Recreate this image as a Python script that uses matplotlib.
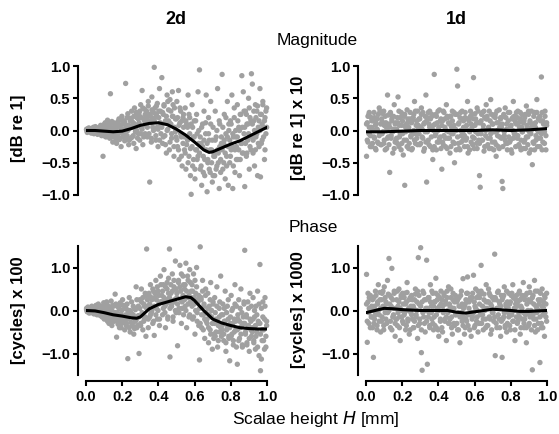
import numpy as np
import matplotlib
matplotlib.use("Agg")
import matplotlib.pyplot as plt

plt.rcParams["font.family"] = ["Liberation Sans", "DejaVu Sans"]

# Scalae height H [mm] of the simulated points (shared by all four panels;
# each panel has two batches of values drawn at these heights)
h = [
    0.003, 0.007, 0.011, 0.016, 0.018, 0.024, 0.029, 0.032, 0.036, 0.041,
    0.044, 0.047, 0.052, 0.055, 0.061, 0.064, 0.068, 0.073, 0.077, 0.081,
    0.086, 0.089, 0.094, 0.098, 0.101, 0.106, 0.110, 0.114, 0.119, 0.123,
    0.127, 0.131, 0.135, 0.139, 0.143, 0.148, 0.152, 0.156, 0.161, 0.165,
    0.169, 0.173, 0.177, 0.182, 0.185, 0.189, 0.194, 0.198, 0.202, 0.206,
    0.211, 0.214, 0.219, 0.223, 0.227, 0.231, 0.236, 0.239, 0.244, 0.248,
    0.252, 0.256, 0.261, 0.264, 0.268, 0.273, 0.277, 0.281, 0.285, 0.289,
    0.293, 0.297, 0.302, 0.306, 0.310, 0.314, 0.319, 0.323, 0.327, 0.331,
    0.335, 0.339, 0.344, 0.348, 0.352, 0.356, 0.361, 0.364, 0.369, 0.373,
    0.377, 0.381, 0.386, 0.389, 0.394, 0.398, 0.402, 0.406, 0.411, 0.414,
    0.419, 0.423, 0.427, 0.431, 0.436, 0.439, 0.444, 0.448, 0.452, 0.456,
    0.461, 0.464, 0.469, 0.473, 0.477, 0.481, 0.486, 0.489, 0.494, 0.498,
    0.502, 0.506, 0.511, 0.514, 0.519, 0.523, 0.527, 0.531, 0.536, 0.539,
    0.544, 0.548, 0.552, 0.556, 0.561, 0.564, 0.569, 0.573, 0.577, 0.581,
    0.586, 0.589, 0.594, 0.598, 0.602, 0.606, 0.611, 0.614, 0.619, 0.623,
    0.627, 0.631, 0.636, 0.639, 0.644, 0.648, 0.652, 0.656, 0.661, 0.664,
    0.669, 0.673, 0.677, 0.681, 0.686, 0.689, 0.694, 0.698, 0.702, 0.706,
    0.711, 0.714, 0.719, 0.723, 0.727, 0.731, 0.736, 0.739, 0.744, 0.748,
    0.752, 0.756, 0.761, 0.764, 0.769, 0.773, 0.777, 0.781, 0.786, 0.789,
    0.794, 0.798, 0.802, 0.806, 0.811, 0.814, 0.819, 0.823, 0.827, 0.831,
    0.836, 0.839, 0.844, 0.848, 0.852, 0.856, 0.861, 0.864, 0.869, 0.873,
    0.877, 0.881, 0.886, 0.889, 0.894, 0.898, 0.902, 0.906, 0.911, 0.914,
    0.919, 0.923, 0.927, 0.931, 0.936, 0.939, 0.944, 0.948, 0.952, 0.956,
    0.961, 0.964, 0.969, 0.973, 0.977, 0.981, 0.986, 0.989, 0.994, 0.998,
]

# 2d magnitude [dB re 1]
mag_2d = [
    0.02, -0.03, 0.01, 0.04, -0.01, 0.00, -0.04, 0.03, -0.02, 0.05,
    -0.05, 0.03, 0.06, -0.02, 0.01, -0.06, 0.04, -0.03, 0.02, 0.08,
    -0.08, 0.05, -0.40, 0.09, -0.03, 0.12, -0.10, 0.02, 0.16, -0.06,
    0.10, -0.12, 0.57, -0.05, 0.14, -0.18, 0.03, -0.09, 0.08, -0.15,
    -0.20, 0.12, -0.06, 0.18, -0.14, 0.06, -0.25, 0.22, 0.00, -0.10,
    0.15, -0.16, 0.73, 0.08, -0.08, 0.26, -0.22, 0.03, 0.19, -0.12,
    0.30, -0.10, 0.12, -0.20, 0.35, 0.02, -0.28, 0.20, 0.08, -0.05,
    0.25, -0.15, 0.40, 0.05, 0.62, -0.22, 0.18, 0.33, -0.05, 0.10,
    0.30, -0.10, 0.45, 0.15, -0.80, 0.22, -0.18, 0.52, 0.05, 0.28,
    0.98, 0.20, -0.15, 0.38, 0.05, -0.25, 0.30, 0.65, 0.12, -0.05,
    0.82, -0.20, 0.25, 0.40, -0.08, 0.15, -0.35, 0.55, 0.02, 0.32,
    -0.30, 0.48, 0.10, -0.12, 0.60, 0.22, -0.40, 0.35, -0.02, 0.18,
    0.45, -0.25, 0.62, -0.45, 0.12, 0.30, -0.10, -0.55, 0.20, 0.05,
    -0.30, 0.35, -0.60, 0.10, -0.15, 0.55, -0.40, 0.20, -0.70, -0.99,
    0.40, -0.55, -0.10, 0.15, -0.75, -0.30, 0.25, -0.45, 0.60, -0.20,
    0.94, -0.60, -0.20, -0.85, 0.10, -0.40, 0.30, -0.70, -0.05, 0.55,
    -0.95, -0.50, 0.20, -0.15, -0.65, 0.45, -0.30, -0.80, 0.05, -0.40,
    -0.70, 0.30, -0.10, -0.55, 0.65, -0.35, -0.90, 0.10, -0.45, -0.20,
    0.87, -0.60, -0.20, 0.25, -0.75, -0.05, -0.40, 0.45, -0.85, 0.10,
    -0.50, 0.15, -0.30, 0.55, -0.90, -0.10, 0.35, -0.65, 0.00, -0.25,
    0.40, -0.45, 0.05, -0.70, 0.25, -0.20, 0.85, -0.35, 0.60, -0.05,
    -0.87, 0.30, -0.40, 0.10, -0.15, 0.50, -0.60, 0.20, -0.30, 0.88,
    0.72, -0.35, 0.15, -0.55, 0.40, -0.10, 0.30, -0.70, 0.05, -0.25,
    0.65, -0.72, 0.25, -0.15, 0.45, 0.05, -0.45, 0.20, -0.05, 0.35,
]
mag_2d_b = [
    0.01, -0.02, 0.03, -0.01, 0.00, 0.02, -0.03, 0.01, -0.01, 0.02,
    -0.03, 0.02, 0.00, 0.04, -0.04, 0.01, -0.01, 0.03, -0.02, 0.05,
    0.06, -0.05, 0.02, -0.08, 0.04, -0.02, 0.08, -0.04, 0.00, 0.03,
    -0.06, 0.10, -0.02, 0.05, -0.10, 0.02, 0.12, -0.07, 0.00, 0.07,
    0.05, -0.08, 0.14, -0.03, 0.09, -0.12, 0.02, 0.16, -0.05, 0.10,
    -0.05, 0.12, 0.04, -0.10, 0.20, 0.00, 0.08, -0.15, 0.15, 0.06,
    0.15, 0.05, -0.08, 0.22, 0.10, -0.02, 0.28, 0.00, -0.12, 0.18,
    0.12, 0.30, -0.05, 0.20, 0.02, 0.35, -0.10, 0.15, 0.25, 0.08,
    0.20, 0.05, 0.38, -0.05, 0.25, 0.12, -0.12, 0.32, 0.18, 0.00,
    0.15, 0.35, -0.08, 0.25, 0.42, 0.02, 0.20, -0.15, 0.30, 0.10,
    0.05, 0.28, -0.10, 0.38, 0.12, -0.22, 0.22, 0.00, 0.45, 0.15,
    0.12, -0.18, 0.30, -0.05, 0.22, 0.40, -0.25, 0.05, 0.18, -0.10,
    -0.15, 0.20, -0.30, 0.08, 0.35, -0.05, -0.40, 0.15, -0.20, 0.25,
    -0.10, -0.35, 0.15, -0.22, 0.05, -0.50, 0.25, -0.05, -0.28, 0.10,
    -0.25, 0.05, -0.45, -0.10, -0.60, 0.15, -0.30, -0.05, -0.40, 0.00,
    -0.35, -0.10, -0.55, 0.05, -0.25, -0.65, -0.15, -0.45, 0.12, -0.30,
    -0.20, -0.45, -0.05, -0.60, -0.30, 0.10, -0.50, -0.15, -0.70, -0.35,
    -0.40, -0.15, -0.60, 0.00, -0.30, -0.50, 0.15, -0.25, -0.65, -0.10,
    -0.30, 0.05, -0.50, -0.15, -0.35, 0.20, -0.55, -0.10, -0.25, 0.00,
    -0.15, -0.40, 0.10, -0.25, -0.05, -0.55, 0.20, -0.30, -0.10, -0.45,
    -0.10, 0.15, -0.30, 0.00, -0.45, 0.25, -0.20, 0.05, -0.35, 0.30,
    0.05, -0.20, 0.25, -0.35, 0.10, -0.05, 0.35, -0.25, 0.15, -0.10,
    0.10, -0.15, 0.30, 0.00, -0.30, 0.20, -0.05, 0.38, -0.20, 0.15,
    0.00, 0.25, -0.20, 0.10, 0.40, -0.10, 0.15, -0.30, 0.30, 0.05,
]

# 1d magnitude [dB re 1] x 10
mag_1d = [
    -0.40, 0.12, -0.18, 0.25, 0.05, -0.08, 0.20, -0.25, 0.02, 0.15,
    0.28, -0.12, 0.08, -0.30, 0.18, 0.00, -0.20, 0.35, -0.05, 0.10,
    -0.22, 0.14, -0.02, 0.30, -0.15, 0.22, 0.06, -0.28, 0.55, -0.10,
    0.10, -0.65, 0.25, -0.08, 0.18, -0.35, 0.02, 0.40, -0.18, 0.12,
    -0.12, 0.20, 0.52, -0.25, 0.08, -0.05, 0.28, -0.20, 0.15, -0.38,
    0.22, -0.85, 0.05, -0.15, 0.32, 0.12, -0.28, 0.00, 0.18, -0.10,
    -0.30, 0.15, -0.05, 0.25, 0.45, -0.20, 0.08, -0.12, 0.30, 0.02,
    0.18, -0.22, 0.05, 0.35, -0.10, 0.28, -0.32, 0.12, -0.02, 0.55,
    -0.80, 0.20, -0.15, 0.10, 0.30, -0.25, 0.02, 0.22, -0.45, 0.08,
    0.87, -0.08, 0.25, -0.30, 0.12, 0.00, -0.18, 0.32, -0.10, 0.18,
    -0.60, 0.15, -0.22, 0.28, 0.05, -0.12, 0.40, -0.28, 0.20, -0.02,
    0.10, -0.35, 0.22, -0.05, 0.30, -0.18, 0.08, -0.50, 0.25, 0.00,
    0.95, 0.69, -0.20, 0.12, -0.30, 0.28, -0.08, 0.18, -0.15, 0.05,
    -0.25, 0.20, 0.02, -0.12, 0.45, -0.35, 0.15, -0.02, 0.30, -0.18,
    0.25, -0.10, 0.82, -0.28, 0.08, 0.18, -0.20, 0.35, -0.05, 0.12,
    -0.70, -0.88, 0.15, -0.15, 0.28, 0.02, -0.32, 0.20, -0.08, 0.40,
    0.18, -0.22, 0.05, 0.30, -0.12, 0.48, -0.28, 0.10, -0.02, 0.22,
    -0.18, 0.25, -0.40, 0.12, 0.00, -0.25, 0.32, -0.10, 0.20, 0.05,
    -0.79, -0.90, 0.22, -0.08, 0.35, -0.20, 0.10, -0.30, 0.15, 0.02,
    0.28, -0.15, 0.08, -0.35, 0.20, 0.45, -0.05, 0.15, -0.25, 0.10,
    -0.12, 0.30, -0.22, 0.05, 0.18, -0.30, 0.25, -0.02, 0.12, -0.18,
    0.20, -0.28, 0.38, 0.02, -0.10, 0.25, -0.35, 0.15, -0.05, 0.30,
    -0.53, 0.10, -0.20, 0.28, 0.05, -0.15, 0.48, -0.25, 0.18, -0.02,
    0.22, -0.12, 0.83, -0.30, 0.15, 0.00, -0.20, 0.30, -0.08, 0.12,
]
mag_1d_b = [
    0.10, -0.15, 0.22, -0.05, 0.28, -0.25, 0.05, 0.15, -0.20, 0.00,
    -0.10, 0.20, -0.28, 0.12, 0.02, -0.18, 0.25, -0.08, 0.30, -0.22,
    0.18, -0.05, 0.26, -0.20, 0.08, -0.30, 0.12, 0.00, -0.12, 0.24,
    -0.22, 0.05, 0.28, -0.12, 0.15, -0.02, 0.22, -0.28, 0.10, -0.15,
    0.02, -0.20, 0.12, 0.30, -0.10, 0.20, -0.30, 0.08, -0.05, 0.25,
    -0.15, 0.25, -0.02, 0.10, -0.25, 0.18, 0.05, -0.20, 0.28, -0.08,
    0.12, -0.28, 0.20, 0.00, -0.15, 0.30, -0.05, 0.15, -0.22, 0.08,
    -0.05, 0.18, -0.20, 0.25, 0.02, -0.12, 0.10, -0.28, 0.22, -0.18,
    0.15, -0.02, 0.28, -0.22, 0.05, 0.18, -0.10, 0.25, -0.30, 0.00,
    -0.25, 0.10, -0.05, 0.22, -0.18, 0.30, 0.05, -0.12, 0.15, -0.28,
    0.08, -0.18, 0.30, -0.08, 0.18, -0.25, 0.00, 0.22, -0.12, 0.12,
    -0.12, 0.22, -0.25, 0.05, 0.15, -0.05, 0.28, -0.20, 0.02, -0.30,
    0.25, -0.10, 0.10, -0.28, 0.20, 0.00, -0.18, 0.30, -0.05, 0.15,
    -0.08, 0.28, -0.15, 0.08, -0.25, 0.18, 0.00, -0.30, 0.22, 0.10,
    0.05, -0.22, 0.18, -0.12, 0.26, -0.02, 0.12, -0.28, 0.30, -0.15,
    -0.20, 0.12, -0.05, 0.25, -0.15, 0.08, 0.30, -0.25, 0.00, 0.18,
    0.22, -0.12, 0.02, -0.28, 0.15, -0.05, 0.25, -0.18, 0.10, -0.30,
    -0.02, 0.20, -0.22, 0.30, -0.08, 0.12, -0.28, 0.05, 0.18, -0.12,
    0.10, -0.25, 0.25, -0.02, -0.15, 0.20, 0.02, -0.20, 0.28, -0.10,
    -0.18, 0.05, -0.30, 0.18, 0.00, -0.12, 0.22, -0.05, 0.12, 0.28,
    0.20, -0.08, 0.12, -0.25, 0.28, -0.15, 0.05, -0.02, -0.28, 0.15,
    -0.15, 0.25, -0.10, 0.08, -0.22, 0.30, -0.02, 0.12, -0.30, 0.05,
    0.02, -0.18, 0.22, -0.30, 0.12, -0.08, 0.28, 0.00, -0.12, 0.20,
    -0.25, 0.15, -0.05, 0.28, -0.18, 0.10, -0.02, 0.22, -0.30, 0.08,
]

# 2d phase [cycles] x 100
ph_2d = [
    0.05, -0.03, 0.08, 0.00, -0.06, 0.03, -0.01, 0.10, -0.04, 0.02,
    -0.08, 0.06, -0.02, 0.12, -0.10, 0.01, 0.15, -0.05, 0.04, -0.12,
    0.10, -0.15, -0.02, 0.18, -0.20, 0.05, -0.08, 0.20, -0.25, 0.00,
    -0.30, 0.08, -0.12, 0.22, -0.35, 0.12, -0.05, -0.22, 0.38, -0.15,
    -0.62, 0.10, -0.25, 0.05, -0.40, 0.18, -0.10, -0.30, 0.25, -0.18,
    -0.20, -0.45, 0.12, -0.30, 0.02, -1.12, -0.15, 0.30, -0.50, -0.05,
    0.20, -0.35, -0.10, -0.55, 0.05, -0.25, 0.55, -0.40, -0.15, 0.10,
    -1.00, 0.25, -0.30, 0.50, -0.10, -0.45, 0.15, -0.20, 0.40, -0.60,
    1.43, 0.10, -0.40, 0.35, -0.15, 0.60, -0.05, 0.25, -0.30, 0.45,
    -0.58, 0.30, 0.70, 0.05, -0.20, 0.45, 0.15, -0.35, 0.80, 0.20,
    0.35, -0.10, 0.60, 0.95, 0.10, -0.40, 0.25, 0.50, -0.15, 0.75,
    1.43, -1.08, 0.40, 0.10, 0.85, -0.25, 0.55, 0.20, 1.15, -0.05,
    0.30, -0.82, 0.65, 0.05, 1.05, 0.45, -0.30, 0.20, 0.80, -0.10,
    0.50, 0.10, 1.10, -0.40, 0.30, 0.70, -0.15, 0.95, 0.20, 0.45,
    0.60, -0.20, 0.85, 0.15, -0.55, 0.40, 1.00, -0.05, 0.25, -0.35,
    -1.15, 1.48, 0.30, -0.40, 0.70, -0.10, 0.10, -0.65, 0.50, -0.25,
    -0.30, 0.40, -0.75, 0.10, -0.45, 0.65, -0.15, -0.90, 0.20, -0.55,
    0.30, -0.60, -0.20, 0.55, -0.85, -0.35, 0.05, -0.50, 0.80, -0.10,
    -0.45, 0.15, -0.70, -0.25, 0.45, -0.95, -0.05, -0.40, 0.25, -0.60,
    -1.17, -0.30, 0.35, -0.55, 0.05, -0.80, -0.20, 0.60, -0.45, 0.10,
    -1.25, -0.20, 0.25, -0.65, -0.40, 0.50, -0.05, -0.85, -0.30, 0.15,
    1.40, -0.50, -0.10, -0.75, 0.20, -0.35, -0.95, 0.40, -0.25, -0.60,
    -0.40, 0.30, -0.70, -0.15, -0.90, 0.10, -0.50, 0.45, -0.30, -1.05,
    1.07, -1.40, -1.13, -0.45, 0.20, -0.70, -0.20, 0.30, -0.85, -0.35,
]
ph_2d_b = [
    0.02, -0.02, 0.04, -0.04, 0.00, 0.06, -0.05, 0.03, -0.01, 0.01,
    0.03, -0.06, 0.08, -0.03, 0.00, -0.08, 0.05, -0.10, 0.02, 0.07,
    -0.05, 0.05, -0.12, 0.02, -0.18, 0.10, -0.08, -0.02, 0.12, -0.15,
    -0.10, -0.20, 0.05, -0.28, 0.00, -0.15, 0.10, -0.25, -0.05, 0.15,
    -0.15, -0.05, -0.32, 0.08, -0.20, -0.10, -0.40, 0.00, -0.25, 0.12,
    -0.25, 0.05, -0.10, -0.35, 0.15, -0.20, -0.05, -0.40, 0.00, -0.28,
    -0.08, -0.30, 0.10, -0.18, -0.42, 0.02, -0.22, 0.25, -0.35, -0.12,
    -0.15, 0.05, -0.35, 0.20, -0.05, 0.30, -0.25, 0.10, -0.15, 0.35,
    0.05, 0.25, -0.20, 0.40, 0.15, -0.10, 0.30, 0.00, 0.50, -0.25,
    0.10, 0.40, -0.10, 0.25, 0.55, 0.00, 0.35, -0.20, 0.20, 0.60,
    0.20, 0.45, 0.05, 0.30, -0.05, 0.55, 0.15, 0.65, -0.20, 0.40,
    0.30, 0.05, 0.60, 0.15, 0.45, -0.15, 0.70, 0.25, 0.00, 0.50,
    0.40, 0.15, 0.70, -0.05, 0.55, 0.25, 0.85, 0.05, 0.35, 0.60,
    0.25, 0.60, 0.00, 0.45, 0.80, 0.15, 0.35, -0.10, 0.65, 0.30,
    0.10, 0.45, -0.15, 0.30, 0.70, 0.00, 0.55, -0.25, 0.20, 0.35,
    0.05, -0.30, 0.25, -0.10, 0.45, -0.45, 0.15, -0.20, 0.35, -0.05,
    -0.20, 0.05, -0.40, -0.10, 0.25, -0.55, 0.00, -0.30, 0.15, -0.65,
    -0.30, -0.05, -0.50, 0.10, -0.25, -0.70, -0.15, 0.20, -0.40, -0.60,
    -0.35, -0.10, -0.55, 0.05, -0.25, -0.75, -0.45, 0.10, -0.20, -0.65,
    -0.40, -0.15, -0.60, 0.00, -0.30, -0.70, -0.50, 0.15, -0.25, -0.85,
    -0.45, -0.10, -0.70, -0.25, 0.05, -0.55, -0.35, -0.80, -0.15, 0.20,
    -0.30, -0.55, -0.15, -0.80, -0.40, 0.05, -0.65, -0.20, -0.45, 0.10,
    -0.50, -0.20, -0.75, 0.00, -0.35, -0.60, -0.10, -0.85, -0.25, 0.15,
    -0.30, -0.55, 0.05, -0.70, -0.15, -0.45, -0.90, 0.10, -0.60, -0.25,
]

# 1d phase [cycles] x 1000
ph_1d = [
    0.84, -0.74, 0.20, -0.30, 0.05, 0.35, -0.15, 0.10, -0.40, -1.09,
    0.30, -0.20, 0.45, 0.00, -0.35, 0.15, 0.60, -0.10, 0.25, -0.50,
    -0.25, 0.40, 0.10, -0.45, 0.55, -0.05, 0.20, -0.30, 0.70, 0.00,
    1.21, 0.15, -0.40, 0.30, 0.98, -0.15, 0.05, 0.45, -0.60, -0.20,
    0.25, -0.35, 0.10, 0.50, -0.15, -0.70, 0.35, 0.00, -0.25, 0.15,
    -0.10, 0.40, -0.45, 0.20, 0.65, -0.25, 0.05, -0.55, 0.30, -0.05,
    0.35, -0.20, 0.10, -0.40, 0.25, 0.50, -0.10, 0.00, -0.65, 1.23,
    0.15, -0.30, 1.46, -0.98, -1.39, 0.45, -0.15, 0.25, -0.50, 0.05,
    1.17, -1.25, 0.30, -0.05, -0.35, 0.60, 0.10, -0.20, 0.40, -0.45,
    -0.15, 0.20, 0.75, -0.40, 0.05, 0.35, -0.60, 0.10, -0.25, 0.45,
    0.25, -0.50, 0.00, 0.40, -0.20, 0.15, -0.70, 0.30, -0.05, 0.55,
    -0.30, 0.10, 0.50, -0.15, -0.55, 0.25, 0.05, -0.35, 0.35, -0.10,
    0.20, -0.45, -0.05, 0.30, -0.75, 0.10, 0.45, -0.25, 0.74, -0.15,
    -0.55, 0.15, -0.20, 0.40, 0.78, -0.35, 0.05, -0.10, 0.25, -0.60,
    0.30, -0.15, 0.82, -0.40, 0.10, 0.50, -0.25, 0.00, -0.50, 0.35,
    0.15, -0.30, 1.05, 0.40, -0.10, -0.45, 0.25, 0.05, -0.20, 0.60,
    -0.35, 0.20, 0.50, -0.15, 0.35, -0.55, 0.10, -0.05, 0.30, -0.25,
    1.31, -1.05, 0.25, -0.40, 0.05, 0.45, -0.20, 0.15, -0.60, 0.35,
    -1.09, 0.30, -0.15, 0.55, -0.35, 0.10, -0.50, 0.20, -0.05, 0.40,
    0.15, -0.45, 0.35, -0.10, 0.60, -0.25, 0.05, -0.70, 0.25, -0.15,
    -0.30, 0.20, -0.05, 0.45, -0.55, 0.10, 0.30, -0.20, 0.65, -0.40,
    0.25, -0.10, -0.75, 0.40, 0.00, -0.35, 0.55, -0.15, 0.20, -0.45,
    -1.38, 0.35, -0.20, 0.70, -0.50, 0.10, -0.05, 0.45, -0.30, 0.15,
    -1.21, 0.25, -0.40, 0.50, -0.10, 0.05, -0.60, 0.30, -0.15, 0.40,
]
ph_1d_b = [
    0.15, -0.25, 0.40, -0.05, 0.30, -0.40, 0.05, -0.15, 0.25, 0.00,
    -0.30, 0.10, -0.10, 0.35, -0.45, 0.20, 0.00, -0.25, 0.42, 0.05,
    0.25, -0.15, 0.45, -0.35, 0.05, 0.30, -0.20, 0.15, -0.05, 0.38,
    0.00, 0.35, -0.25, 0.10, -0.45, 0.25, -0.10, 0.40, -0.30, 0.05,
    -0.20, 0.45, -0.05, 0.20, -0.40, 0.05, 0.30, -0.15, 0.40, -0.30,
    0.30, -0.05, 0.15, -0.35, 0.42, -0.20, 0.00, 0.25, -0.45, 0.10,
    -0.10, 0.25, -0.40, 0.05, -0.25, 0.38, -0.15, 0.20, 0.45, -0.35,
    0.35, -0.20, 0.10, -0.45, 0.20, -0.05, 0.40, -0.30, 0.00, 0.25,
    -0.25, 0.05, -0.15, 0.30, -0.40, 0.20, -0.05, 0.45, -0.30, 0.10,
    0.20, -0.35, 0.40, -0.10, 0.25, -0.45, 0.00, 0.30, -0.20, 0.15,
    -0.40, 0.10, -0.05, 0.35, -0.25, 0.22, -0.15, 0.45, 0.00, -0.30,
    0.15, -0.20, 0.30, -0.40, 0.05, 0.40, -0.30, 0.20, -0.10, 0.25,
    -0.30, 0.25, -0.45, 0.10, -0.15, 0.35, -0.05, 0.15, -0.35, 0.05,
    0.10, -0.40, 0.25, -0.25, 0.40, -0.10, 0.20, -0.45, 0.30, -0.05,
    -0.20, 0.40, -0.05, 0.20, -0.35, 0.05, 0.30, -0.15, 0.45, -0.30,
    0.30, -0.10, 0.45, -0.30, 0.10, -0.20, 0.38, 0.00, -0.40, 0.20,
    0.05, -0.35, 0.20, 0.40, -0.20, 0.15, -0.45, 0.30, -0.05, 0.25,
    -0.15, 0.30, -0.30, 0.05, 0.42, -0.10, 0.20, -0.40, 0.10, -0.25,
    0.25, -0.20, 0.35, -0.05, -0.40, 0.15, 0.45, -0.30, 0.05, -0.15,
    -0.35, 0.20, -0.10, 0.40, -0.25, 0.30, 0.00, -0.45, 0.15, 0.35,
    0.10, -0.25, 0.40, -0.15, 0.25, -0.40, 0.05, 0.35, -0.05, -0.30,
    -0.20, 0.35, -0.40, 0.15, -0.05, 0.25, -0.30, 0.42, 0.00, -0.12,
    0.30, -0.10, 0.15, -0.35, 0.45, -0.20, 0.05, -0.45, 0.25, 0.00,
    -0.15, 0.40, -0.30, 0.10, -0.40, 0.20, 0.35, -0.05, 0.15, -0.25,
]

# smoothed trend curves (black lines)
mag_2d_fit_h = [0.0, 0.05, 0.1, 0.15, 0.2, 0.25, 0.3, 0.35, 0.4, 0.45, 0.5,
                0.55, 0.6, 0.65, 0.68, 0.7, 0.75, 0.8, 0.85, 0.9, 0.95, 1.0]
mag_2d_fit = [0.0, 0.0, -0.01, -0.02, -0.01, 0.03, 0.08, 0.11, 0.12, 0.09,
              0.02, -0.07, -0.18, -0.30, -0.34, -0.33, -0.27, -0.21, -0.16,
              -0.09, -0.02, 0.05]
mag_1d_fit_h = [0.0, 0.1, 0.2, 0.3, 0.4, 0.5, 0.6, 0.7, 0.8, 0.9, 1.0]
mag_1d_fit = [-0.02, -0.02, -0.01, 0.0, 0.0, 0.0, 0.0, 0.01, 0.0, 0.01, 0.03]
ph_2d_fit_h = [0.0, 0.05, 0.1, 0.15, 0.2, 0.25, 0.28, 0.3, 0.35, 0.4, 0.45,
               0.5, 0.55, 0.58, 0.6, 0.65, 0.7, 0.75, 0.8, 0.85, 0.9, 0.95, 1.0]
ph_2d_fit = [0.0, -0.01, -0.05, -0.10, -0.13, -0.17, -0.18, -0.15, 0.04, 0.14,
             0.20, 0.26, 0.32, 0.30, 0.23, 0.0, -0.20, -0.29, -0.35, -0.40,
             -0.42, -0.43, -0.43]
ph_1d_fit_h = [0.0, 0.05, 0.1, 0.15, 0.2, 0.3, 0.4, 0.45, 0.5, 0.55, 0.6,
               0.7, 0.8, 0.85, 0.9, 1.0]
ph_1d_fit = [-0.05, 0.0, 0.05, 0.04, 0.02, 0.0, 0.0, 0.0, -0.04, -0.06, -0.03,
             0.03, 0.0, -0.02, -0.02, 0.0]

W, H = 559, 434
fig = plt.figure(figsize=(W / 100, H / 100), dpi=100)

GRAY = "#a0a0a0"


def px_axes(x0, x1, y0, y1):
    """Axes from pixel box (x0..x1 left-right, y0..y1 top-bottom)."""
    return fig.add_axes([x0 / W, 1 - y1 / H, (x1 - x0) / W, (y1 - y0) / H])


def style(ax, yticks, ybounds, show_x):
    for s in ["top", "right"]:
        ax.spines[s].set_visible(False)
    ax.spines["left"].set_position(("outward", 6))
    ax.spines["left"].set_bounds(*ybounds)
    ax.spines["left"].set_linewidth(1.5)
    ax.set_yticks(yticks)
    ax.set_yticklabels([f"{v:.1f}".replace("-", "\u2212") for v in yticks])
    ax.tick_params(axis="y", direction="out", length=3.5, width=1.5,
                   labelsize=10.5, pad=2)
    ax.set_xlim(0, 1)
    if show_x:
        ax.spines["bottom"].set_position(("outward", 4))
        ax.spines["bottom"].set_linewidth(1.5)
        ax.set_xticks([0, 0.2, 0.4, 0.6, 0.8, 1.0])
        ax.set_xticklabels(["0.0", "0.2", "0.4", "0.6", "0.8", "1.0"])
        ax.tick_params(axis="x", direction="out", length=3.5, width=1.5,
                       labelsize=10.5, pad=3)
    else:
        ax.spines["bottom"].set_visible(False)
        ax.set_xticks([])
    for lab in ax.get_xticklabels() + ax.get_yticklabels():
        lab.set_fontweight("bold")
    ax.patch.set_alpha(0)


panels = [
    (86, 267, 62.8, 198.2, (-1.05, 1.05), mag_2d, mag_2d_b, mag_2d_fit_h,
     mag_2d_fit, [-1, -0.5, 0, 0.5, 1], (-1, 1), False),
    (366, 547, 62.8, 198.2, (-1.05, 1.05), mag_1d, mag_1d_b, mag_1d_fit_h,
     mag_1d_fit, [-1, -0.5, 0, 0.5, 1], (-1, 1), False),
    (86, 267, 246, 375, (-1.5, 1.5), ph_2d, ph_2d_b, ph_2d_fit_h, ph_2d_fit,
     [-1, 0, 1], (-1.5, 1.5), True),
    (366, 547, 246, 375, (-1.5, 1.5), ph_1d, ph_1d_b, ph_1d_fit_h, ph_1d_fit,
     [-1, 0, 1], (-1.5, 1.5), True),
]

for x0, x1, y0, y1, ylim, va, vb, fh, fv, yt, yb, showx in panels:
    ax = px_axes(x0, x1, y0, y1)
    ax.scatter(h, va, s=15, color=GRAY, edgecolors="none", clip_on=False)
    ax.scatter(h, vb, s=15, color=GRAY, edgecolors="none", clip_on=False)
    ax.plot(fh, fv, color="black", lw=2.2, solid_capstyle="round")
    ax.set_ylim(*ylim)
    style(ax, yt, yb, showx)

# texts
fig.text(176 / W, 1 - 20 / H, "2d", ha="center", va="center", fontsize=13,
         fontweight="bold")
fig.text(456 / W, 1 - 20 / H, "1d", ha="center", va="center", fontsize=13,
         fontweight="bold")
fig.text(317 / W, 1 - 40 / H, "Magnitude", ha="center", va="center",
         fontsize=12.5)
fig.text(313 / W, 1 - 228 / H, "Phase", ha="center", va="center",
         fontsize=12.5)
fig.text(316 / W, 1 - 419 / H, "Scalae height $\\it{H}$ [mm]", ha="center",
         va="center", fontsize=12.5)

ylabels = [
    (19, 128, "[dB re 1]"),
    (298, 128, "[dB re 1] x 10"),
    (19, 310, "[cycles] x 100"),
    (298, 310, "[cycles] x 1000"),
]
for xp, yp, t in ylabels:
    fig.text(xp / W, 1 - yp / H, t, rotation=90, ha="center", va="center",
             fontsize=12, fontweight="bold")

fig.savefig("out.png", dpi=100)
